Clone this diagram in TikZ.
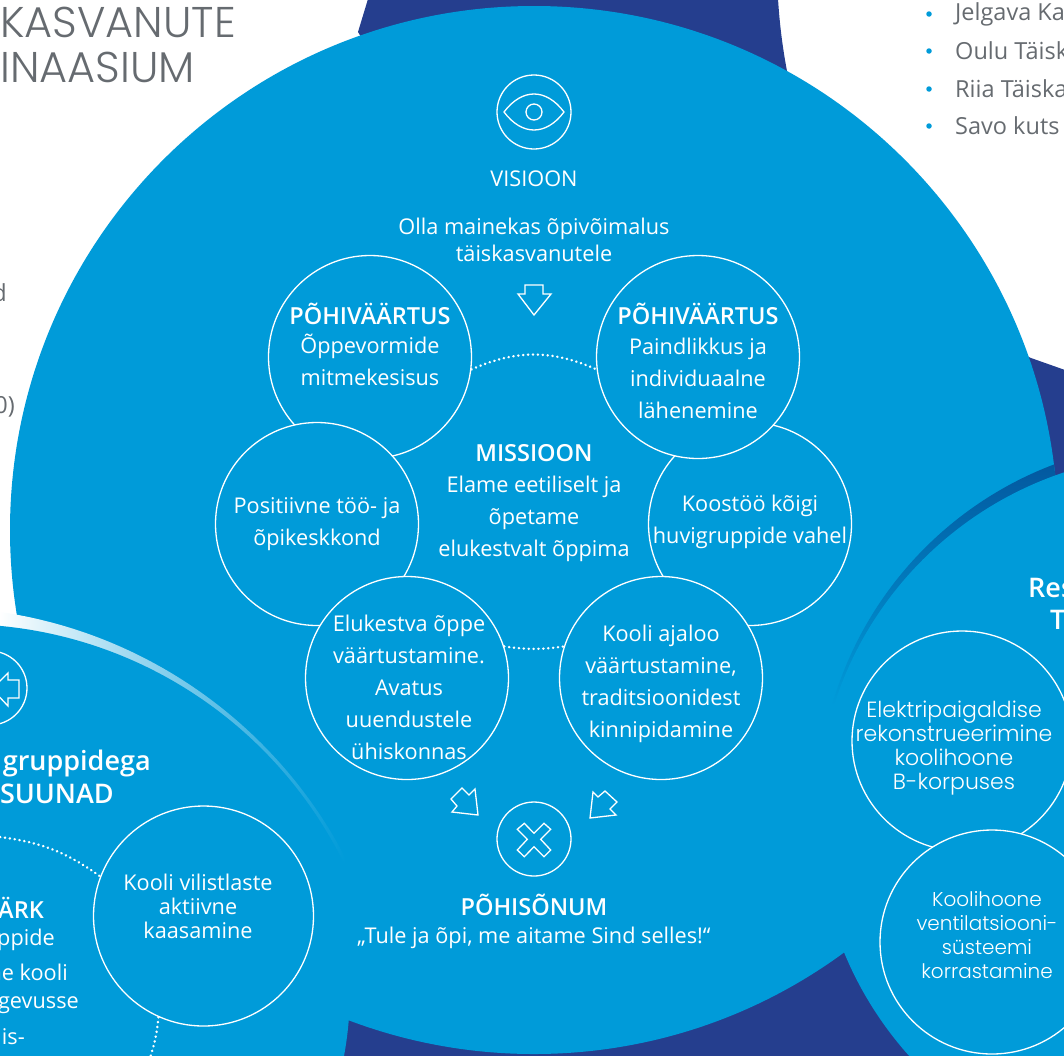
\documentclass[tikz,border=0pt]{standalone}
\usepackage{fontspec}
\setmainfont{Open Sans}[BoldFont={Open Sans Semibold}]
\newfontfamily\wide{Poppins Light}
\usetikzlibrary{shapes.geometric}
\definecolor{mainb}{HTML}{009BD9}
\definecolor{navy}{HTML}{253E8E}
\definecolor{darkb}{HTML}{03589F}
\definecolor{midb}{HTML}{0078BE}
\definecolor{paleb}{HTML}{A4D6F1}
\definecolor{greytx}{HTML}{666B70}
\tikzset{
  ring/.style={circle,draw=white,fill=mainb,line width=1.3pt,inner sep=0pt},
  bigring/.style={ring,minimum size=203pt},
  iconring/.style={circle,draw=white,line width=1.3pt,inner sep=0pt,minimum size=74pt},
  tx/.style={text=white,align=center,inner sep=0pt,font=\fontsize{21.7}{32}\selectfont},
  txs/.style={text=white,align=center,inner sep=0pt,font=\fontsize{21.7}{24}\selectfont},
  txw/.style={text=white,align=center,inner sep=0pt,font=\wide\fontsize{22}{24}\selectfont},
  txv/.style={text=white,align=center,inner sep=0pt,font=\wide\fontsize{20}{24}\selectfont},
  hd/.style={text=white,align=center,inner sep=0pt,font=\bfseries\fontsize{27}{32}\selectfont},
  hds/.style={text=white,align=center,inner sep=0pt,font=\bfseries\fontsize{23.5}{32}\selectfont},
  gr/.style={text=greytx,inner sep=0pt,font=\fontsize{23.5}{28}\selectfont},
  grh/.style={text=greytx,inner sep=0pt,align=right,font=\wide\fontsize{43}{46}\selectfont},
  icon/.style={draw=white,line width=1.3pt,line join=miter},
  dots/.style={draw=white,line width=2.5pt,line cap=round,dash pattern=on 0.3pt off 4.6pt},
  blt/.style={circle,fill=mainb,inner sep=0pt,minimum size=5.5pt}
}
\begin{document}
\begin{tikzpicture}[x=1pt,y=-1pt]
\useasboundingbox (0,0) rectangle (1064,1055);
\clip (0,0) rectangle (1064,1055);
% navy backdrop
\fill[navy] (368,-1) -- (778,-1) .. controls (780,30) and (784,60) .. (792,95) -- (900,300) -- (1031,358) -- (1065,370) -- (1065,1056) -- (340,1056) -- (400,100) -- (358,32) -- cycle;
% main disc
\fill[mainb] (534,530) circle[radius=524];
% left disc
\fill[mainb] (-12,990) circle[radius=362];
% left highlight
\begin{scope}
  \clip (-1,600) rectangle (345,900);
  \clip (-68,1073) circle[radius=466];
  \shade[left color=white,middle color=paleb,right color=mainb] (-1,600) rectangle (345,900);
  \fill[mainb] (-40.4,1052) circle[radius=428];
\end{scope}
% right shadow
\begin{scope}
  \clip (534,530) circle[radius=524];
  \clip (1183,806) circle[radius=365];
  \shade[top color=darkb,middle color=midb,bottom color=mainb] (820,462) rectangle (1065,705);
\end{scope}
\fill[mainb] (1178,815) circle[radius=361];

% grey page text
\node[grh,anchor=east] (h1) at (236,22) {KASVANUTE};
\node[grh,anchor=east] (h2) at (195,67) {INAASIUM};
\node[gr,anchor=east] (g1) at (7,293) {d};
\node[gr,anchor=east] (g2) at (15,407) {0)};
\foreach \yy/\tt [count=\i] in {14/Jelgava Ka,51/Oulu Täisk,89/Riia Täiska,126/Savo kuts}{
  \node[blt] (b\i) at (929,\yy) {};
  \node[gr,anchor=west] (l\i) at (955,\yy) {\tt};
}

% vision
\node[iconring] (vis) at (534,112) {};
\draw[icon] (504,112) .. controls (522,88) and (546,88) .. (564,112) .. controls (546,136) and (522,136) .. (504,112) -- cycle;
\draw[icon] (534,112) circle[radius=8];
\node[tx] (vt) at (534,179) {VISIOON};
\node[tx,font=\fontsize{21.7}{27}\selectfont] (vd) at (534,240) {Olla mainekas õpivõimalus\\täiskasvanutele};
\draw[icon] (525,285) -- (543,285) -- (543,294) -- (551,294) -- (534,315) -- (518,294) -- (525,294) -- cycle;

% value circles
\node[bigring] (c1) at (370,357) {};
\node[bigring] (c3) at (317,524) {};
\node[bigring] (c5) at (407,678) {};
\node[bigring] (c4) at (750,524) {};
\node[bigring] (c2) at (698,357) {};
\node[bigring] (c6) at (661,678) {};
\draw[dots] (c1.-7) to[bend left=24] (c2.187);
\draw[dots] (c5.18) to[bend right=8] (c6.162);

\node[hds] (t1a) at (370,314) {PÕHIVÄÄRTUS};
\node[tx] (t1) at (370,360) {Õppevormide\\mitmekesisus};
\node[hds] (t2a) at (698,314) {PÕHIVÄÄRTUS};
\node[tx] (t2) at (698,378) {Paindlikkus ja\\individuaalne\\lähenemine};
\node[tx] (t3) at (317,524) {Positiivne töö- ja\\õpikeskkond};
\node[tx] (t4) at (750,522) {Koostöö kõigi\\huvigruppide vahel};
\node[tx] (t5) at (409,687) {Elukestva õppe\\väärtustamine.\\Avatus\\uuendustele\\ühiskonnas};
\node[tx] (t6) at (661,684) {Kooli ajaloo\\väärtustamine,\\traditsioonidest\\kinnipidamine};
\node[hds] (m0) at (534,453) {MISSIOON};
\node[tx] (m1) at (534,519) {Elame eetiliselt ja\\õpetame\\elukestvalt õppima};

% message
\draw[icon] (478,815) -- (475,789) -- (469,795) -- (462,788) -- (451,799) -- (457,806) -- (452,812) -- cycle;
\draw[icon] (590,818) -- (593,792) -- (598,797) -- (605,791) -- (617,802) -- (610,809) -- (616,815) -- cycle;
\node[iconring] (msg) at (534,839) {};
\draw[icon] (517.3,829.3) -- (524.3,823.3) -- (534,833.3) -- (544,823.3) -- (550.7,829.3) -- (540.7,839.3) -- (550.7,850) -- (544,856.7) -- (534,846.7) -- (524.3,856.7) -- (517.3,850) -- (527.3,839.3) -- cycle;
\node[hds] (p0) at (534,905) {PÕHISÕNUM};
\node[tx] (p1) at (534,938) {„Tule ja õpi, me aitame Sind selles!“};

% left disc content
\node[iconring] (li) at (-10,688) {};
\draw[icon] (-8,689) -- (8,673) -- (8,680) -- (19,680) -- (19,698) -- (8,698) -- (8,706) -- cycle;
\node[hd,anchor=east] (lh1) at (151,763) {gruppidega};
\node[hd,anchor=east] (lh2) at (114,794) {SUUNAD};
\node[hds,anchor=east] (lt0) at (44,908) {ÄRK};
\node[tx,anchor=east] (lt1) at (55,940) {ppide};
\node[tx,anchor=east] (lt2) at (68,972) {ne kooli};
\node[tx,anchor=east] (lt3) at (79,1005) {gevusse};
\node[tx,anchor=east] (lt4) at (25,1037) {is-};
\node[ring,minimum size=220pt] (kv) at (203.5,916) {};
\node[txs] (kvt) at (198,906) {Kooli vilistlaste\\aktiivne\\kaasamine};
\coordinate (ldA) at (0,837);
\coordinate (ldB) at (150,1058);
\draw[dots] (ldA) to[bend left=14] (kv.159);
\draw[dots] (kv.246) to[bend left=6] (ldB);

% right disc content
\node[hd,anchor=west] (rh1) at (1028,588) {Res};
\node[hd,anchor=west] (rh2) at (1050,620) {T};
\node[ring,minimum size=220pt] (ep) at (962,741) {};
\node[ring,minimum size=224pt] (kh) at (992,942) {};
\node[txw] (ept) at (954,748) {Elektripaigaldise\\rekonstrueerimine\\koolihoone\\B-korpuses};
\node[txv] (kht) at (987,935) {Koolihoone\\ventilatsiooni-\\süsteemi\\korrastamine};
\end{tikzpicture}
\end{document}
